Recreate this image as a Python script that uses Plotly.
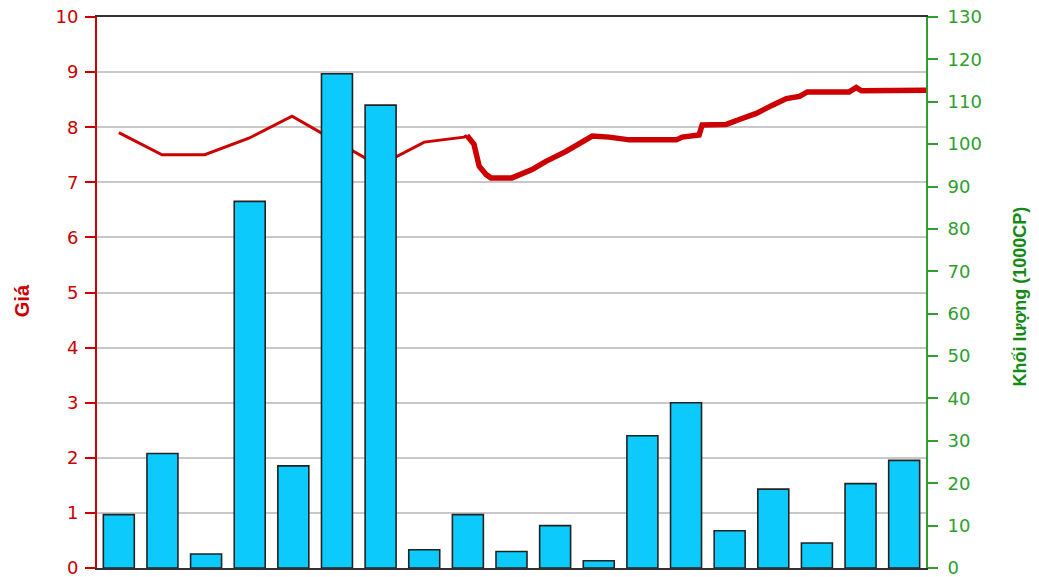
import plotly.graph_objects as go

# Volume bars (1000 CP), one per session
sessions = list(range(19))
volume = [12.6, 27.0, 3.3, 86.5, 24.1, 116.6, 109.2, 4.3, 12.6, 3.9,
          10.0, 1.7, 31.2, 39.0, 8.8, 18.6, 5.9, 19.9, 25.4]

# Price line (position along sessions, price)
price_x_a = [0, 0.99, 1.97, 2.98, 3.97, 4.95, 5.96, 7.0, 7.91, 7.98]
price_a = [7.9, 7.5, 7.5, 7.8, 8.2, 7.75, 7.3, 7.73, 7.82, 7.85]

price_x_b = [7.98, 8.14, 8.26, 8.42, 8.53, 9.01, 9.47, 9.79, 10.25, 10.62, 10.85,
             11.24, 11.7, 12.16, 12.78, 12.91, 13.3, 13.37, 13.92, 14.22, 14.61,
             14.98, 15.3, 15.6, 15.78, 16.74, 16.9, 17.02, 18.74]
price_b = [7.85, 7.69, 7.29, 7.14, 7.08, 7.08, 7.23, 7.38, 7.56, 7.72, 7.84,
           7.82, 7.77, 7.77, 7.77, 7.82, 7.86, 8.04, 8.05, 8.14, 8.25,
           8.4, 8.52, 8.56, 8.64, 8.64, 8.72, 8.66, 8.67]

left_ticks = list(range(0, 11))
right_ticks = list(range(0, 131, 10))

RED = "#cc0000"
GREEN = "#2e9e2e"
BAR = "#0ccbfc"

fig = go.Figure()
fig.add_trace(go.Bar(x=sessions, y=volume, yaxis="y2", width=0.71,
                     marker=dict(color=BAR, line=dict(color="#222222", width=1.6)),
                     showlegend=False))
fig.add_trace(go.Scatter(x=price_x_a, y=price_a, mode="lines", yaxis="y",
                         line=dict(color=RED, width=3), showlegend=False))
fig.add_trace(go.Scatter(x=price_x_b, y=price_b, mode="lines", yaxis="y",
                         line=dict(color=RED, width=5.5), showlegend=False))

fig.update_layout(
    width=1031, height=569, autosize=False,
    margin=dict(l=89, r=113, t=9, b=9, autoexpand=False),
    paper_bgcolor="white", plot_bgcolor="white",
    font=dict(family="DejaVu Sans", size=18),
    xaxis=dict(range=[-0.5, 18.5], showticklabels=False, ticks="",
               showgrid=False, zeroline=False, showline=True, automargin=False,
               linecolor="#333333", linewidth=2, mirror=True),
    yaxis=dict(range=[0, 10], tickvals=left_ticks, ticks="outside", ticklen=10,
               tickcolor=RED, tickwidth=2, showline=True, linecolor=RED, linewidth=2,
               tickfont=dict(color=RED, size=18), showgrid=True, automargin=False,
               ticklabeloverflow="allow", ticklabelstandoff=3,
               gridcolor="#c8c8c8", gridwidth=1.5, zeroline=False),
    yaxis2=dict(range=[0, 130], tickvals=right_ticks, overlaying="y", side="right",
                ticks="outside", ticklen=10, tickcolor=GREEN, tickwidth=2,
                showline=True, linecolor=GREEN, linewidth=2, automargin=False,
                ticklabeloverflow="allow", ticklabelstandoff=6,
                tickfont=dict(color=GREEN, size=18), showgrid=False, zeroline=False),
    annotations=[
        dict(text="<b>Giá</b>", xref="paper", yref="paper", x=-0.0905, y=0.486,
             xanchor="center", yanchor="middle",
             textangle=-90, showarrow=False, font=dict(color=RED, size=20,
             family="Liberation Sans")),
        dict(text="<b>Khối lượng (1000CP)</b>", xref="paper", yref="paper",
             x=1.113, y=0.492, xanchor="center", yanchor="middle",
             textangle=-90, showarrow=False,
             font=dict(color="#138a13", size=18, family="Liberation Sans Narrow, Liberation Sans")),
    ],
)

fig.write_html("out.html")
